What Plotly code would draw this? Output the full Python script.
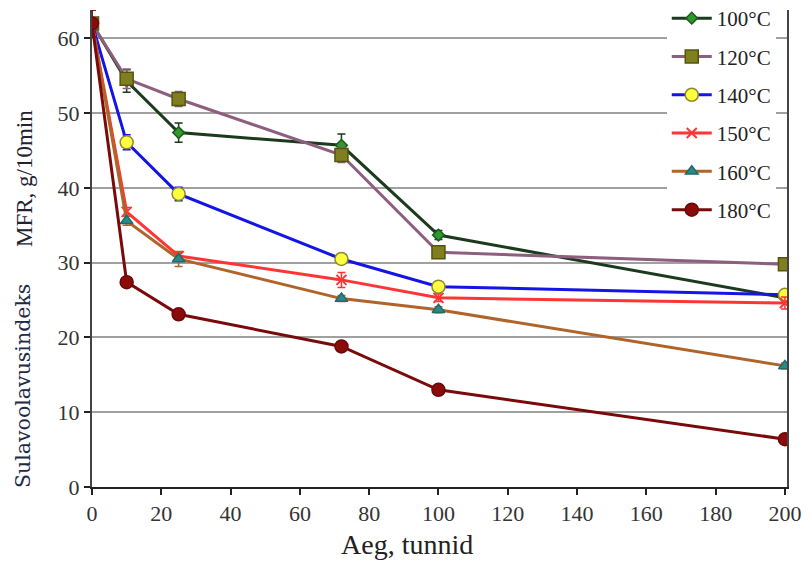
import plotly.graph_objects as go

hours = [0, 10, 25, 72, 100, 200]

names = ["100°C", "120°C", "140°C", "150°C", "160°C", "180°C"]
mfr_100 = [62.0, 54.3, 47.4, 45.7, 33.7, 25.3]
mfr_120 = [62.0, 54.6, 51.9, 44.4, 31.4, 29.8]
mfr_140 = [62.0, 46.1, 39.2, 30.5, 26.8, 25.7]
mfr_150 = [62.0, 36.8, 30.9, 27.7, 25.3, 24.6]
mfr_160 = [62.0, 35.6, 30.5, 25.2, 23.7, 16.2]
mfr_180 = [62.0, 27.4, 23.1, 18.8, 13.0, 6.4]

err_100 = [1.8, 1.5, 1.3, 1.5, 0.6, 0.4]
err_120 = [1.8, 1.3, 1.0, 1.0, 0.6, 0.5]
err_140 = [1.8, 1.0, 0.9, 0.5, 0.5, 0.5]
err_150 = [1.8, 0.6, 0.5, 1.0, 0.5, 0.8]
err_160 = [1.8, 0.6, 1.0, 0.4, 0.4, 0.4]
err_180 = [1.8, 0.4, 0.4, 0.4, 0.4, 0.4]

series = [mfr_100, mfr_120, mfr_140, mfr_150, mfr_160, mfr_180]
errors = [err_100, err_120, err_140, err_150, err_160, err_180]

line_colors = ["#1c3a1c", "#8e5e7e", "#1414e6", "#ff3535", "#b0642a", "#7a0a0a"]
marker_colors = ["#2e9a2e", "#7f7f1f", "#ffff40", "#ff3535", "#2a8a8a", "#8b0a0a"]
marker_lines = ["#1c5a1c", "#55550f", "#8b8b2b", "#ff3535", "#1f6a6a", "#6a0808"]
symbols = ["diamond", "square", "circle", "x-thin", "triangle-up", "circle"]
sizes = [9, 13, 13, 10, 11, 13]

# page body has an 8px margin, so the figure is drawn 8px in from the top-left
W, H = 804, 557
L, R, T, B = 84, 25, 2, 78
PW, PH = W - L - R, H - T - B

fig = go.Figure()
for i in range(6):
    fig.add_trace(go.Scatter(
        x=hours, y=series[i], name=names[i], mode="lines+markers",
        legendgroup=names[i],
        line=dict(color=line_colors[i], width=3),
        marker=dict(symbol=symbols[i], size=sizes[i], color=marker_colors[i],
                    line=dict(color=marker_lines[i], width=1.5 if symbols[i] != "x-thin" else 2)),
        error_y=dict(type="data", array=errors[i], color=line_colors[i],
                     thickness=1.5, width=4),
    ))

fig.update_layout(
    width=W, height=H,
    margin=dict(l=L, r=R, t=T, b=B, autoexpand=False),
    paper_bgcolor="white", plot_bgcolor="white",
    font=dict(family="Liberation Serif", color="#333333", size=22),
    showlegend=True,
    legend=dict(x=0.827, y=1 + 12 / PH, xanchor="left", yanchor="top",
                bgcolor="white", font=dict(size=21, color="#222222",
                                           family="Liberation Serif"),
                tracegroupgap=8, itemwidth=40),
    xaxis=dict(range=[0, 200.6], tickmode="array",
               tickvals=[0, 20, 40, 60, 80, 100, 120, 140, 160, 180, 200],
               showgrid=False, zeroline=False,
               showline=True, linecolor="#222222", linewidth=2,
               ticks="outside", ticklen=6, tickcolor="#222222", tickwidth=2,
               tickfont=dict(size=22, color="#333333")),
    yaxis=dict(range=[0, 63.8], tickmode="array",
               tickvals=[0, 10, 20, 30, 40, 50, 60],
               showgrid=True, gridcolor="#a0a0a0", gridwidth=1.5,
               zeroline=False,
               showline=True, linecolor="#444444", linewidth=2, mirror=True,
               ticks="outside", ticklen=6, tickcolor="#222222", tickwidth=2,
               tickfont=dict(size=22, color="#333333")),
)

def px(xs):
    return (xs - 8 - L) / PW

def py(ys):
    return (H - B - (ys - 8)) / PH

fig.add_annotation(text="Aeg, tunnid", xref="paper", yref="paper",
                   x=px(407), y=py(544), showarrow=False,
                   font=dict(family="Liberation Serif", size=28, color="#222222"),
                   xanchor="center", yanchor="middle")
fig.add_annotation(text="Sulavoolavusindeks", xref="paper", yref="paper",
                   x=px(23), y=py(386), showarrow=False,
                   textangle=-90,
                   font=dict(family="DejaVu Serif", size=20.5, color="#1e2b45"),
                   xanchor="center", yanchor="middle")
fig.add_annotation(text="MFR, g/10min", xref="paper", yref="paper",
                   x=px(25), y=py(179), showarrow=False,
                   textangle=-90,
                   font=dict(family="Liberation Serif", size=23, color="#222233"),
                   xanchor="center", yanchor="middle")

fig.write_html("out.html")
